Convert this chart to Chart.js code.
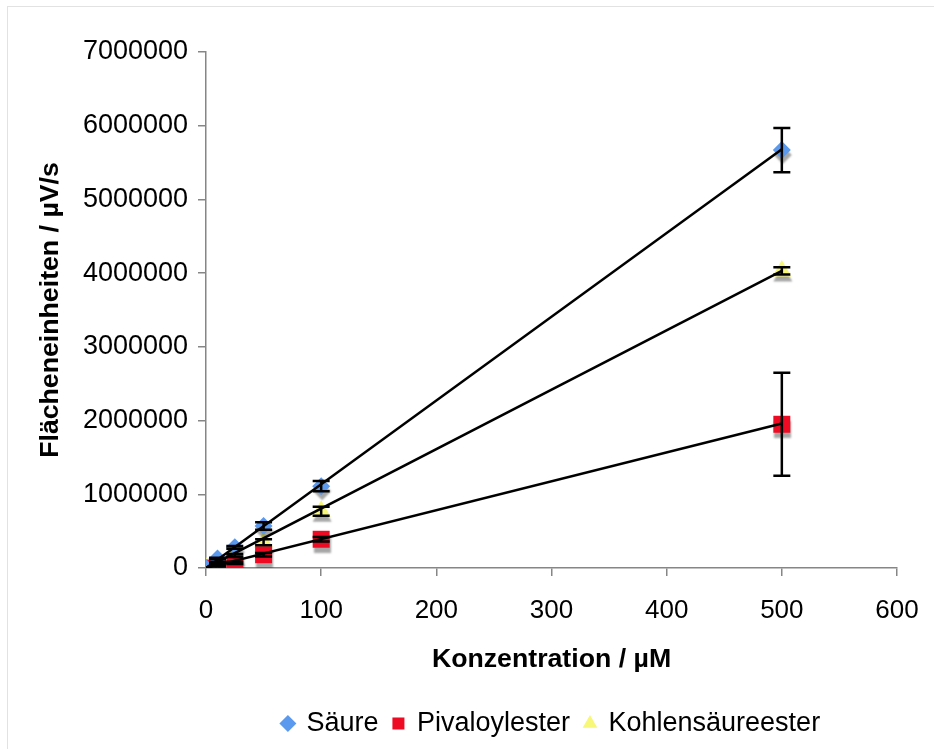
<!DOCTYPE html>
<html>
<head>
<meta charset="utf-8">
<script src="https://cdn.jsdelivr.net/npm/chart.js@4.4.1/dist/chart.umd.min.js"></script>
<style>
    html, body { margin: 0; padding: 0; background: #fff; }
    #wrap { position: relative; width: 934px; height: 749px; overflow: hidden; }
    #frame { position: absolute; left: 7px; top: 6px; width: 960px; height: 780px; border: 1px solid #e2e2e2; }
    #chart { position: absolute; left: 0; top: 0; }
</style>
</head>
<body>
<div id="wrap">
    <div id="frame"></div>
    <canvas id="chart" width="934" height="749"></canvas>
</div>
<script>
    // concentrations in µM
    var concentrations = [0, 10, 25, 50, 100, 500];

    var saeure = [0, 130000, 280000, 570000, 1110000, 5670000];
    var saeureErr = [0, 10000, 20000, 50000, 70000, 300000];

    var pivaloyl = [0, 30000, 70000, 180000, 390000, 1950000];
    var pivaloylErr = [0, 10000, 15000, 25000, 30000, 700000];

    var kohlen = [0, 70000, 170000, 350000, 770000, 4030000];
    var kohlenErr = [0, 10000, 20000, 40000, 60000, 50000];

    // linear trend lines (start / end)
    var trendX = [0, 500];
    var saeureTrend = [0, 5680000];
    var pivaloylTrend = [0, 1960000];
    var kohlenTrend = [0, 4030000];

    var xTicks = [0, 100, 200, 300, 400, 500, 600];
    var yTicks = [0, 1000000, 2000000, 3000000, 4000000, 5000000, 6000000, 7000000];

    var FONT = "'Liberation Sans', Arial, Helvetica, sans-serif";

    function points(xs, ys) {
        return xs.map(function (x, i) { return { x: x, y: ys[i] }; });
    }

    var series = [
        { values: saeure, errors: saeureErr },
        { values: pivaloyl, errors: pivaloylErr },
        { values: kohlen, errors: kohlenErr }
    ];

    // grey drop shadow under the markers
    var shadowPlugin = {
        id: 'markerShadow',
        beforeDatasetDraw: function (chart, args) {
            if (chart.data.datasets[args.index].isTrend) return;
            var ctx = chart.ctx;
            ctx.save();
            ctx.shadowColor = 'rgba(0, 0, 0, 0.35)';
            ctx.shadowOffsetX = 1;
            ctx.shadowOffsetY = 5;
            ctx.shadowBlur = 2;
        },
        afterDatasetDraw: function (chart, args) {
            if (chart.data.datasets[args.index].isTrend) return;
            chart.ctx.restore();
        }
    };

    // legend sits centred under the plot, not under the whole canvas
    var legendShift = {
        id: 'legendShift',
        afterLayout: function (chart) {
            var lg = chart.legend;
            var dx = (chart.chartArea.left + chart.chartArea.right) / 2 - (lg.left + lg.right) / 2;
            lg.left += dx;
            lg.right += dx;
        }
    };

    var errorBarPlugin = {
        id: 'errorBars',
        afterDatasetsDraw: function (chart) {
            var ctx = chart.ctx;
            var xs = chart.scales.x;
            var ys = chart.scales.y;
            ctx.save();
            ctx.strokeStyle = '#000';
            ctx.lineWidth = 2.5;
            series.forEach(function (s) {
                s.values.forEach(function (v, i) {
                    var err = s.errors[i];
                    if (!err) return;
                    var px = xs.getPixelForValue(concentrations[i]);
                    var top = ys.getPixelForValue(v + err);
                    var bot = ys.getPixelForValue(v - err);
                    ctx.beginPath();
                    ctx.moveTo(px, top);
                    ctx.lineTo(px, bot);
                    ctx.moveTo(px - 8.5, top);
                    ctx.lineTo(px + 8.5, top);
                    ctx.moveTo(px - 8.5, bot);
                    ctx.lineTo(px + 8.5, bot);
                    ctx.stroke();
                });
            });
            ctx.restore();
        }
    };

    function trendSet(ys) {
        return {
            type: 'line',
            isTrend: true,
            data: points(trendX, ys),
            borderColor: '#000',
            borderWidth: 2.5,
            pointRadius: 0,
            fill: false,
            order: -1
        };
    }

    new Chart(document.getElementById('chart'), {
        type: 'scatter',
        data: {
            datasets: [
                {
                    label: 'Säure',
                    data: points(concentrations, saeure),
                    pointStyle: 'rectRot',
                    pointRadius: 9,
                    backgroundColor: '#5a99ee',
                    borderColor: '#5a99ee',
                    borderWidth: 0
                },
                {
                    label: 'Pivaloylester',
                    data: points(concentrations, pivaloyl),
                    pointStyle: 'rect',
                    pointRadius: 12,
                    backgroundColor: '#ee0a22',
                    borderColor: '#ee0a22',
                    borderWidth: 0
                },
                {
                    label: 'Kohlensäureester',
                    data: points(concentrations, kohlen),
                    pointStyle: 'triangle',
                    pointRadius: 11,
                    backgroundColor: '#f7f77a',
                    borderColor: '#f7f77a',
                    borderWidth: 0
                },
                trendSet(saeureTrend),
                trendSet(pivaloylTrend),
                trendSet(kohlenTrend)
            ]
        },
        options: {
            responsive: false,
            animation: false,
            layout: { padding: { left: 31, right: 37, top: 52, bottom: 2 } },
            plugins: {
                tooltip: { enabled: false },
                legend: {
                    position: 'bottom',
                    labels: {
                        usePointStyle: true,
                        boxWidth: 10,
                        boxHeight: 12,
                        padding: 15,
                        color: '#000',
                        font: { family: FONT, size: 27 },
                        filter: function (item, data) {
                            return !data.datasets[item.datasetIndex].isTrend;
                        }
                    }
                }
            },
            scales: {
                x: {
                    type: 'linear',
                    min: 0,
                    max: 600,
                    afterBuildTicks: function (scale) {
                        scale.ticks = xTicks.map(function (v) { return { value: v }; });
                    },
                    afterFit: function (scale) { scale.height = 127; },
                    border: { color: '#868686', width: 1.5 },
                    grid: { drawOnChartArea: false, drawTicks: true, tickLength: 8, color: '#868686', lineWidth: 1.5 },
                    ticks: {
                        color: '#000',
                        padding: 15,
                        font: { family: FONT, size: 26, lineHeight: 1.5 },
                        callback: function (v) { return String(v); }
                    },
                    title: {
                        display: true,
                        text: 'Konzentration / µM',
                        color: '#000',
                        padding: { top: 0, bottom: 19 },
                        font: { family: FONT, size: 26.7, weight: 'bold' }
                    }
                },
                y: {
                    type: 'linear',
                    min: 0,
                    max: 7000000,
                    afterBuildTicks: function (scale) {
                        scale.ticks = yTicks.map(function (v) { return { value: v }; });
                    },
                    afterFit: function (scale) { scale.width = 175; },
                    border: { color: '#868686', width: 1.5 },
                    grid: { drawOnChartArea: false, drawTicks: true, tickLength: 8, color: '#868686', lineWidth: 1.5 },
                    ticks: {
                        color: '#000',
                        padding: 10,
                        font: { family: FONT, size: 27 },
                        callback: function (v) { return String(v); }
                    },
                    title: {
                        display: true,
                        text: 'Flächeneinheiten / µV/s',
                        color: '#000',
                        padding: { top: 4, bottom: 0 },
                        font: { family: FONT, size: 26.7, weight: 'bold' }
                    }
                }
            }
        },
        plugins: [shadowPlugin, legendShift, errorBarPlugin]
    });
</script>
</body>
</html>
